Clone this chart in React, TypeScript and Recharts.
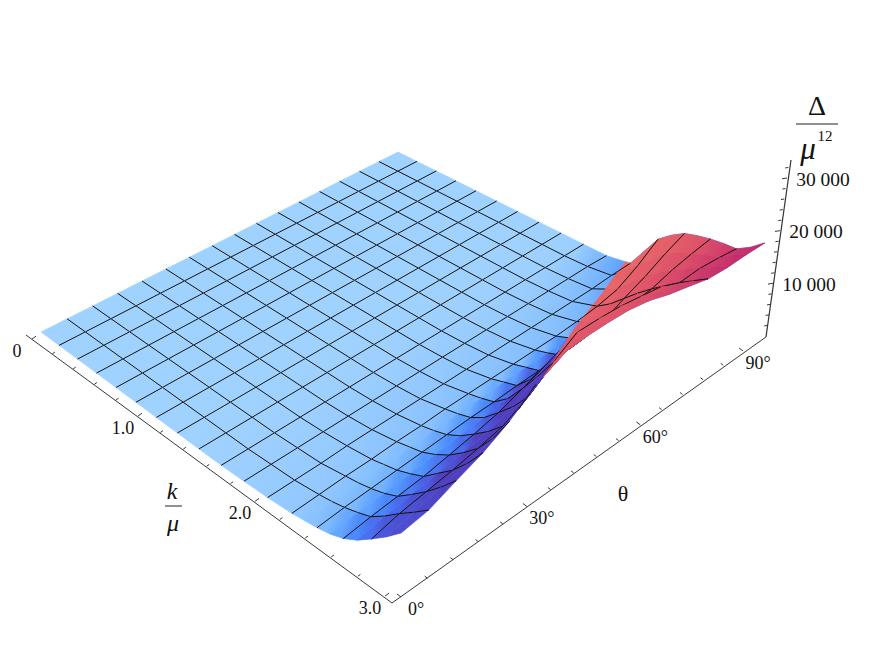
import { ComposedChart, Line, Scatter, XAxis, YAxis } from 'recharts'

const W = 872
const H = 649

// surface rows (k), the ones in meshK also carry a mesh line
const kGrid = [0, 0.1875, 0.375, 0.5625, 0.75, 0.9375, 1.125, 1.3125, 1.5, 1.6875, 1.875, 2.0625, 2.25, 2.34375, 2.4375, 2.53125, 2.625, 2.71875, 2.8125, 2.90625, 3]
const meshK = [0.1875, 0.375, 0.5625, 0.75, 0.9375, 1.125, 1.3125, 1.5, 1.6875, 1.875, 2.0625, 2.25, 2.4375, 2.625, 2.8125]
const thetaGrid = [0, 5.625, 11.25, 16.875, 22.5, 28.125, 33.75, 39.375, 45, 50.625, 56.25, 61.875, 67.5, 73.125, 78.75, 84.375, 90]
// constant-theta lines that can be seen on the underside
const undersideTheta = [73.125]

// delta / mu^12, one row per kGrid value (thetaGrid across)
const flatRow = [0, 0, 0, 0, 0, 0, 0, 0, 0, 0, 0, 0, 0, 0, 0, 0, 0]
const delta = [
  flatRow, flatRow, flatRow, flatRow, flatRow, flatRow, flatRow, flatRow, flatRow, flatRow,
  [200, 200, 200, 200, 200, 200, 200, 200, 200, 200, 200, 200, 200, 200, 200, 200, 0],
  [400, 400, 400, 600, 600, 600, 600, 600, 600, 600, 600, 600, 600, 600, 600, 800, 800],
  [800, 1000, 1200, 1200, 1400, 1400, 1600, 1600, 1600, 1600, 1600, 1600, 1800, 2200, 3000, 5200, 8000],
  [1200, 1400, 1600, 1800, 2000, 2000, 2200, 2200, 2400, 2400, 2400, 2600, 3000, 4000, 5400, 7400, 10000],
  [1600, 2000, 2200, 2400, 2600, 2800, 3000, 3000, 3200, 3200, 3400, 3600, 4400, 6400, 8000, 10000, 11600],
  [2200, 2800, 3000, 3400, 3800, 4200, 4600, 5200, 6000, 6600, 7200, 7200, 7600, 8800, 10000, 11400, 12400],
  [3200, 3800, 4200, 4600, 5400, 6200, 7200, 8800, 10400, 10800, 11000, 11000, 10800, 11000, 12000, 12600, 13000],
  [4800, 5800, 6400, 7000, 7600, 8400, 10000, 12800, 15200, 15200, 15000, 14400, 14000, 13000, 13400, 13600, 13400],
  [7000, 8200, 8800, 9400, 10200, 11200, 13600, 17200, 20000, 19600, 19000, 18000, 17000, 15000, 15000, 14400, 13600],
  [9400, 10400, 11600, 12600, 14000, 16400, 19600, 21600, 22800, 22400, 21400, 20000, 18600, 16800, 16600, 16200, 15200],
  [12200, 12800, 14800, 16600, 19200, 23000, 25400, 25400, 25000, 24400, 23200, 21400, 20000, 18600, 18000, 17800, 17400],
]

const kTicks = [0, 0.2, 0.4, 0.6, 0.8, 1, 1.2, 1.4, 1.6, 1.8, 2, 2.2, 2.4, 2.6, 2.8, 3]
const kTickLabels = [
  { v: 0, t: '0' },
  { v: 1, t: '1.0' },
  { v: 2, t: '2.0' },
  { v: 3, t: '3.0' },
]
const thetaTicks = [0, 6, 12, 18, 24, 30, 36, 42, 48, 54, 60, 66, 72, 78, 84, 90]
const thetaTickLabels = [
  { v: 0, t: '0°' },
  { v: 30, t: '30°' },
  { v: 60, t: '60°' },
  { v: 90, t: '90°' },
]
const zTicks = [2000, 4000, 6000, 8000, 10000, 12000, 14000, 16000, 18000, 20000, 22000, 24000, 26000, 28000, 30000, 32000]
const zTickLabels = [
  { v: 10000, t: '10 000' },
  { v: 20000, t: '20 000' },
  { v: 30000, t: '30 000' },
]

// view: corners of the z=0 plane on the page
const C0 = [41, 332] // k=0 theta=0
const C1 = [395, 594] // k=3 theta=0
const C2 = [756, 330] // k=3 theta=90
const C3 = [398, 152] // k=0 theta=90
const LIFT = 0.005
const LEAN = 0.1

// where the surface folds over: the underside shows to the right of this
const FOLD = '660,215 625,262 602,293 573,330 543,377 560,425 872,425 872,215'

const sx = C0[0] - C1[0] + C2[0] - C3[0]
const sy = C0[1] - C1[1] + C2[1] - C3[1]
const dx1 = C1[0] - C2[0]
const dx2 = C3[0] - C2[0]
const dy1 = C1[1] - C2[1]
const dy2 = C3[1] - C2[1]
const den = dx1 * dy2 - dx2 * dy1
const hg = (sx * dy2 - dx2 * sy) / den
const hh = (dx1 * sy - sx * dy1) / den

function project(k: number, theta: number, z: number) {
  const u = k / 3
  const v = theta / 90
  const w = hg * u + hh * v + 1
  const px = ((C1[0] - C0[0] + hg * C1[0]) * u + (C3[0] - C0[0] + hh * C3[0]) * v + C0[0]) / w
  const py = ((C1[1] - C0[1] + hg * C1[1]) * u + (C3[1] - C0[1] + hh * C3[1]) * v + C0[1]) / w
  const lift = z * LIFT
  return [px + lift * LEAN, py - lift]
}

const clamp = (a: number) => Math.max(0, Math.min(1, a))

function ramp(stops: number[][], t: number) {
  const s = clamp(t) * (stops.length - 1)
  const i = Math.min(Math.floor(s), stops.length - 2)
  const f = s - i
  const c = stops[i].map((a, n) => Math.round(a + (stops[i + 1][n] - a) * f))
  return `rgb(${c[0]},${c[1]},${c[2]})`
}

const BLUES = [[160, 210, 255], [125, 185, 255], [75, 145, 255], [72, 100, 235], [80, 62, 190]]
const REDS = [[234, 106, 106], [222, 80, 104], [196, 44, 110]]

const lastRow = kGrid.length - 1
const lastCol = thetaGrid.length - 1

// rise in pixels per mesh step along k, taken over a few rows and columns so the shading stays soft
function slopeK(j: number, i: number) {
  const a = Math.max(0, j - 2)
  const b = Math.min(lastRow, j + 2)
  let sum = 0
  let n = 0
  for (let c = Math.max(0, i - 1); c <= Math.min(lastCol, i + 1); c++) {
    sum += (((delta[b][c] - delta[a][c]) * LIFT) / (kGrid[b] - kGrid[a])) * 0.1875
    n++
  }
  return sum / n
}

function blueAt(j: number, i: number) {
  return ramp(BLUES, slopeK(j, i) / 27)
}

function redAt(j: number, i: number) {
  const p = project(kGrid[j], thetaGrid[i], delta[j][i])
  return ramp(REDS, ((p[0] - 650) * 0.6 + (p[1] - 245) * 0.7) / 62)
}

type Cell = {
  x: number
  y: number
  id: string
  a: number[]
  b: number[]
  c: number[]
  d: number[]
  from: string
  to: string
  g0: number[]
  g1: number[]
  kEdge: boolean
  thetaEdge: boolean
}

const blueCells: Cell[] = []
const redCells: Cell[] = []
for (let j = 0; j < lastRow; j++) {
  for (let i = lastCol - 1; i >= 0; i--) {
    const a = project(kGrid[j], thetaGrid[i], delta[j][i])
    const b = project(kGrid[j + 1], thetaGrid[i], delta[j + 1][i])
    const c = project(kGrid[j + 1], thetaGrid[i + 1], delta[j + 1][i + 1])
    const d = project(kGrid[j], thetaGrid[i + 1], delta[j][i + 1])
    const base = {
      x: (a[0] + c[0]) / 2,
      y: (a[1] + c[1]) / 2,
      a,
      b,
      c,
      d,
      g0: [(a[0] + d[0]) / 2, (a[1] + d[1]) / 2],
      g1: [(b[0] + c[0]) / 2, (b[1] + c[1]) / 2],
      kEdge: meshK.includes(kGrid[j]),
    }
    blueCells.push({ ...base, thetaEdge: i + 1 < lastCol, id: `b-${j}-${i}`, from: blueAt(j, i), to: blueAt(j + 1, i) })
    if (j >= 10) {
      redCells.push({ ...base, thetaEdge: undersideTheta.includes(thetaGrid[i + 1]), id: `r-${j}-${i}`, from: redAt(j, i), to: redAt(j + 1, i) })
    }
  }
}

function CellMark(props: any) {
  const { cx, cy, payload: p } = props
  const ox = cx - p.x
  const oy = cy - p.y
  const pt = (q: number[]) => `${q[0] + ox},${q[1] + oy}`
  const mesh = (p.kEdge ? `M${pt(p.a)}L${pt(p.d)}` : '') + (p.thetaEdge ? `M${pt(p.d)}L${pt(p.c)}` : '')
  return (
    <g>
      <defs>
        <linearGradient id={p.id} gradientUnits="userSpaceOnUse" x1={p.g0[0] + ox} y1={p.g0[1] + oy} x2={p.g1[0] + ox} y2={p.g1[1] + oy}>
          <stop offset="0" stopColor={p.from} />
          <stop offset="1" stopColor={p.to} />
        </linearGradient>
      </defs>
      <polygon points={[p.a, p.b, p.c, p.d].map(pt).join(' ')} fill={`url(#${p.id})`} stroke={`url(#${p.id})`} strokeWidth={0.7} />
      <path d={mesh} fill="none" stroke="#111" strokeWidth={1} />
    </g>
  )
}

function RedCellMark(props: any) {
  return (
    <g clipPath="url(#underside)">
      <CellMark {...props} />
    </g>
  )
}

function TextMark(props: any) {
  const { cx, cy, payload: p } = props
  return (
    <text
      x={cx}
      y={cy}
      textAnchor="middle"
      dominantBaseline="central"
      style={{ fontFamily: '"Liberation Serif"', fontSize: p.size, fontStyle: p.italic ? 'italic' : 'normal' }}
      fill="#111"
    >
      {p.t}
    </text>
  )
}

// the three axes, each with its own foreshortening
const persp = (t: number, rho: number) => (rho * t) / (1 + (rho - 1) * t)
const kAxis = (v: number) => {
  const s = persp(v / 3, 0.857)
  return [32 + 353 * s, 339 + 257 * s]
}
const thetaAxis = (v: number) => {
  const s = persp(v / 90, 1.165)
  return [401 + 342 * s, 597 - 246 * s]
}
const zAxis = (v: number) => [766 + (21 * v) / 30000, 336 - (158 * v) / 30000]

function tickSegments(ticks: number[], pos: (v: number) => number[], dir: number[], major: (v: number) => boolean) {
  const out: { x: number; y: number | null }[] = []
  ticks.forEach((v) => {
    const p = pos(v)
    const len = major(v) ? 5 : 3.2
    out.push({ x: p[0], y: p[1] }, { x: p[0] + dir[0] * len, y: p[1] + dir[1] * len }, { x: p[0], y: null })
  })
  return out
}

const kAxisLine = [{ x: 26, y: 335 }, { x: 392, y: 603 }]
const thetaAxisLine = [{ x: 392, y: 603 }, { x: 766, y: 337 }]
const zAxisLine = [{ x: 766, y: 337 }, { x: 791, y: 160 }]
const kTickMarks = tickSegments(kTicks, kAxis, [0.82, -0.57], (v) => Number.isInteger(v))
const thetaTickMarks = tickSegments(thetaTicks, thetaAxis, [-0.8, -0.6], (v) => v % 30 === 0)
const zTickMarks = tickSegments(zTicks, zAxis, [-1, 0.15], (v) => v % 10000 === 0)

const labels = [
  ...kTickLabels.map((l) => {
    const p = kAxis(l.v)
    return { x: p[0] - 15, y: p[1] + 12, t: l.t, size: 18 }
  }),
  ...thetaTickLabels.map((l) => {
    const p = thetaAxis(l.v)
    return { x: p[0] + 15, y: p[1] + 12, t: l.t, size: 18 }
  }),
  ...zTickLabels.map((l) => {
    const p = zAxis(l.v)
    return { x: p[0] + 36, y: p[1] + 1, t: l.t, size: 19.5 }
  }),
  { x: 623, y: 493, t: 'θ', size: 22 },
  { x: 172, y: 491, t: 'k', size: 24, italic: true },
  { x: 173, y: 523, t: 'μ', size: 24, italic: true },
  { x: 817, y: 105, t: 'Δ', size: 28 },
  { x: 808, y: 148, t: 'μ', size: 31, italic: true },
  { x: 825, y: 136, t: '12', size: 15 },
]

const kBar = [{ x: 165, y: 506 }, { x: 182, y: 506 }]
const zBar = [{ x: 796, y: 124 }, { x: 838, y: 124 }]

const rule = (data: { x: number; y: number | null }[], name: string, width = 1, color = '#222') => (
  <Line key={name} data={data} dataKey="y" type="linear" stroke={color} strokeWidth={width} dot={false} isAnimationActive={false} legendType="none" />
)

export default function App() {
  return (
    <div style={{ position: 'absolute', left: 0, top: 0, width: W, height: H, background: '#fff' }}>
      <ComposedChart width={W} height={H} margin={{ top: 0, right: 0, bottom: 0, left: 0 }}>
        <defs>
          <clipPath id="underside">
            <polygon points={FOLD} />
          </clipPath>
        </defs>
        <XAxis type="number" dataKey="x" domain={[0, W]} hide allowDataOverflow />
        <YAxis type="number" domain={[0, H]} reversed hide allowDataOverflow width={0} />
        {rule(kAxisLine, 'kAxis', 0.9)}
        {rule(thetaAxisLine, 'thetaAxis', 0.9)}
        {rule(zAxisLine, 'zAxis', 1.2, '#333')}
        {rule(kTickMarks, 'kTicks', 0.9)}
        {rule(thetaTickMarks, 'thetaTicks', 0.9)}
        {rule(zTickMarks, 'zTicks', 0.9)}
        {rule(kBar, 'kBar')}
        {rule(zBar, 'zBar')}
        <Scatter data={blueCells} dataKey="y" shape={<CellMark />} isAnimationActive={false} />
        <Scatter data={redCells} dataKey="y" shape={<RedCellMark />} isAnimationActive={false} />
        <Scatter data={labels} dataKey="y" shape={<TextMark />} isAnimationActive={false} />
      </ComposedChart>
    </div>
  )
}
